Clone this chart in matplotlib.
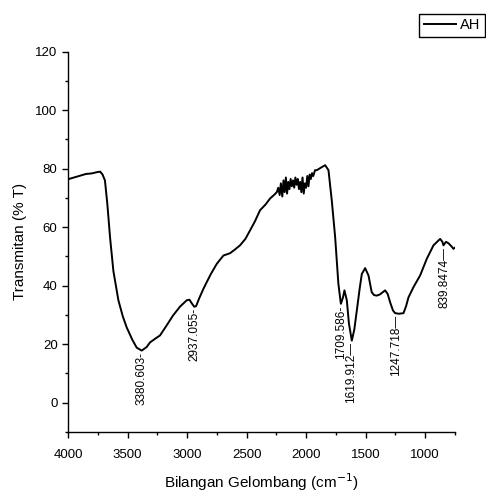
import matplotlib.pyplot as plt
from matplotlib.ticker import MultipleLocator

plt.rcParams['font.family'] = ['Liberation Sans', 'DejaVu Sans']

# FTIR spectrum of AH
wavenumber = [4000, 3950, 3900, 3850, 3800, 3760, 3730, 3710, 3690, 3670,
              3647, 3619, 3577, 3540, 3507, 3460, 3423, 3381, 3340, 3311,
              3270, 3227, 3170, 3118, 3060, 3003, 2980, 2961, 2940, 2924,
              2900, 2863, 2835, 2800, 2750, 2695, 2639, 2600, 2555, 2510,
              2471, 2430, 2387, 2340, 2303, 2270, 2246,
              2234, 2222, 2212, 2200, 2190, 2180, 2170, 2160, 2150, 2140,
              2130, 2120, 2110, 2100, 2090, 2080, 2070, 2060, 2050, 2040,
              2030, 2020, 2010, 2000, 1990, 1980, 1970, 1960, 1950, 1940,
              1925, 1910, 1870, 1840, 1812, 1784, 1756, 1729, 1708, 1690,
              1678, 1658, 1640, 1616, 1595, 1574, 1550, 1532, 1504, 1476,
              1449, 1430, 1407, 1380, 1336, 1315, 1294, 1270, 1252, 1220,
              1182, 1160, 1140, 1098, 1070, 1042, 986, 930, 874, 855,
              846, 825, 804, 780, 762, 750]
transmittance = [76.4, 77.0, 77.6, 78.2, 78.4, 78.8, 79.0, 78.0, 76.0, 68.0,
                 56.5, 45.0, 35.0, 29.5, 25.7, 21.5, 18.8, 17.8, 19.0, 20.6,
                 21.8, 23.0, 26.5, 29.8, 32.8, 35.0, 35.2, 34.0, 32.8, 33.0,
                 35.5, 38.9, 41.2, 44.0, 47.5, 50.3, 51.1, 52.3, 53.8, 56.0,
                 58.9, 62.0, 65.8, 67.8, 69.8, 71.0, 72.0,
                 73.5, 71.0, 75.0, 70.5, 76.0, 72.0, 77.0, 71.5, 75.5, 73.0,
                 76.5, 74.0, 76.0, 73.5, 77.0, 74.5, 76.5, 73.0, 75.5, 72.0,
                 77.0, 71.5, 75.0, 73.5, 77.5, 74.0, 78.0, 76.5, 78.5, 77.5,
                 79.5, 79.5, 80.5, 81.2, 79.5, 69.0, 56.6, 40.7, 33.8, 36.0,
                 38.4, 35.0, 27.0, 21.2, 25.0, 31.5, 39.0, 44.0, 46.0, 43.5,
                 37.8, 36.8, 36.6, 37.0, 38.4, 37.2, 34.3, 31.5, 30.6, 30.4,
                 30.6, 33.0, 36.0, 39.5, 41.5, 43.5, 49.2, 53.8, 56.0, 55.0,
                 53.8, 55.0, 54.5, 53.5, 52.6, 53.0]

peak_pos = [3380.603, 2937.055, 1709.586, 1619.912, 1247.718, 839.8474]
peak_val = [17.8, 32.8, 33.8, 21.2, 30.6, 53.8]
peak_text = ['3380.603-', '2937.055-', '1709.586-', '1619.912\u2014',
             '1247.718\u2014', '839.8474\u2014']

fig = plt.figure(figsize=(4.86, 4.93), dpi=100)
ax = fig.add_axes([0.14, 0.124, 0.796, 0.771])

line, = ax.plot(wavenumber, transmittance, color='black', lw=1.4, label='AH')

for w, t, s in zip(peak_pos, peak_val, peak_text):
    ax.text(w, t - 0.5, s, rotation=90, ha='center', va='top', fontsize=8.5)

ax.set_xlim(4000, 750)
ax.set_ylim(-10, 120)
ax.xaxis.set_major_locator(MultipleLocator(500))
ax.xaxis.set_minor_locator(MultipleLocator(250))
ax.yaxis.set_major_locator(MultipleLocator(20))
ax.yaxis.set_minor_locator(MultipleLocator(10))
ax.tick_params(which='major', length=4, width=1, labelsize=9.5, direction='out')
ax.tick_params(which='minor', length=2.5, width=1, direction='out')
ax.tick_params(axis='x', which='major', pad=8)
for side in ['top', 'right']:
    ax.spines[side].set_visible(False)
for side in ['left', 'bottom']:
    ax.spines[side].set_linewidth(1)

ax.set_xlabel('Bilangan Gelombang (cm$^{-1}$)', fontsize=11, labelpad=8)
ax.set_ylabel('Transmitan (% T)', fontsize=11, labelpad=6)

fig.legend(handles=[line], loc='upper right', bbox_to_anchor=(485 / 486, 1 - 14 / 493),
           fancybox=False, edgecolor='black', framealpha=1, fontsize=10.5,
           borderaxespad=0, handlelength=2.2, handletextpad=0.3, borderpad=0.3)

fig.savefig('out.png', dpi=100)
